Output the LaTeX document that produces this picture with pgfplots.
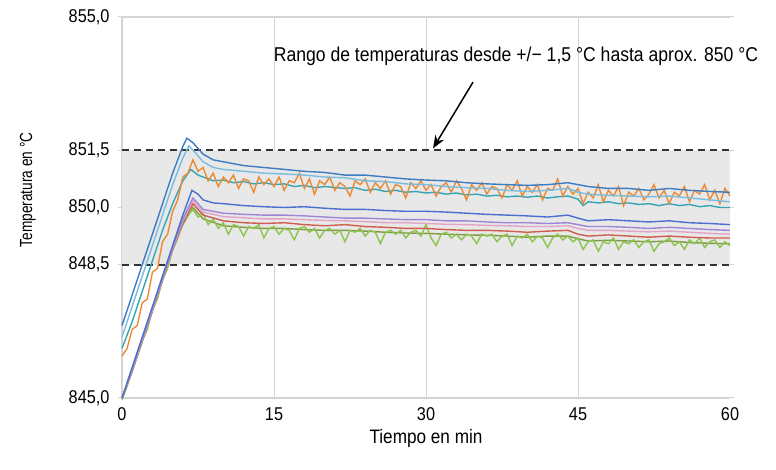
\documentclass[border=0pt]{standalone}
\usepackage{fontspec}
\setmainfont{Liberation Sans}[FakeStretch=0.88]
\newfontfamily\ylabfont{Liberation Sans}[FakeStretch=0.78]
\usepackage{pgfplots}
\pgfplotsset{compat=1.18}
\usetikzlibrary{arrows.meta}

\definecolor{cA}{HTML}{3D7CC0}
\definecolor{cB}{HTML}{78BDE0}
\definecolor{cC}{HTML}{EA8A35}
\definecolor{cD}{HTML}{35A5B5}
\definecolor{cE}{HTML}{4A6FD0}
\definecolor{cF}{HTML}{9D85D8}
\definecolor{cG}{HTML}{E3A3C8}
\definecolor{cH}{HTML}{CF5C4F}
\definecolor{cI}{HTML}{8CC44E}
\definecolor{cJ}{HTML}{7D9B45}
\definecolor{band}{HTML}{E8E8E8}
\definecolor{frame}{HTML}{D4D4D4}

\begin{document}
\begin{tikzpicture}
\begin{axis}[
  width=608bp, height=381bp, scale only axis,
  xmin=0, xmax=60, ymin=845, ymax=855,
  clip=false,
  axis line style={draw=none},
  xtick={0,15,30,45,60},
  ytick={845,848.5,850,851.5,855},
  xtick style={draw=none},
  ytick style={draw=frame, line width=1bp},
  tick align=outside, major tick length=4bp,
  y tick label style={xshift=-5bp, /pgf/number format/.cd, use comma, fixed, fixed zerofill, precision=1},
  x tick label style={yshift=-2bp},
  /pgf/number format/assume math mode=true,
  tick label style={font=\fontsize{18.5bp}{20bp}\selectfont},
  xlabel={Tiempo en min},
  ylabel={Temperatura en °C},
  xlabel style={font=\fontsize{19.5bp}{22bp}\selectfont, at={(axis description cs:0.5,-0.105)}, anchor=center},
  ylabel style={font=\fontsize{17.5bp}{20bp}\ylabfont, at={(axis description cs:-0.155,0.546)}, anchor=center},
  every axis plot/.append style={line width=1.4bp, mark=none},
]
% canvas
\path (axis cs:-12.04,843.11) rectangle (axis cs:64.54,855.446);
% grid and frame
\draw[frame, line width=1bp] (axis cs:15,845) -- (axis cs:15,855);
\draw[frame, line width=1bp] (axis cs:30,845) -- (axis cs:30,855);
\draw[frame, line width=1bp] (axis cs:45,845) -- (axis cs:45,855);
\draw[frame, line width=1.2bp] (axis cs:60,855) -- (axis cs:0,855) -- (axis cs:0,845) -- (axis cs:60,845);
% tolerance band
\addplot[fill=band, draw=none] coordinates {(0,848.5) (60,848.5) (60,851.5) (0,851.5)} -- cycle;
\addplot[color=black!80, line width=2bp, dash pattern=on 7bp off 5bp] coordinates {(0,851.5) (60,851.5)};
\addplot[color=black!80, line width=2bp, dash pattern=on 7bp off 5bp] coordinates {(0,848.5) (60,848.5)};

% lower group
\addplot[color=cJ] coordinates {(0,845.0) (1,845.7) (2,846.48) (3,847.28) (4,848.08) (5,848.88) (6,849.55) (7,850.0) (7.5,849.85) (8,849.7) (10,849.52) (12,849.48) (14,849.45) (16,849.45) (18,849.42) (20,849.4) (22,849.4) (24,849.38) (26,849.35) (28,849.33) (30,849.32) (32,849.3) (34,849.28) (36,849.27) (38,849.25) (40,849.22) (42,849.25) (44,849.25) (45,849.18) (46,849.12) (48,849.14) (50,849.12) (52,849.1) (54,849.12) (56,849.08) (58,849.06) (60,849.05)};
\addplot[color=cI] coordinates {(0,844.95) (0.5,845.3) (1,845.7) (1.5,846.1) (2,846.5) (2.5,846.8) (3,847.3) (3.5,847.6) (4,848.1) (4.5,848.4) (5,848.9) (5.5,849.2) (6,849.6) (6.5,849.8) (7.0,849.95) (7.5,849.75) (8.0,849.85) (8.5,849.55) (9.0,849.7) (9.5,849.45) (10.0,849.6) (10.5,849.3) (11.0,849.55) (11.5,849.5) (12.0,849.25) (12.5,849.5) (13.0,849.45) (13.5,849.55) (14.0,849.2) (14.5,849.45) (15.0,849.5) (15.5,849.3) (16.0,849.45) (16.5,849.4) (17.0,849.15) (17.5,849.45) (18.0,849.5) (18.5,849.35) (19.0,849.45) (19.5,849.2) (20.0,849.4) (20.5,849.45) (21.0,849.3) (21.5,849.4) (22.0,849.1) (22.5,849.4) (23.0,849.35) (23.5,849.45) (24.0,849.25) (24.5,849.4) (25.0,849.35) (25.5,849.05) (26.0,849.35) (26.5,849.4) (27.0,849.3) (27.5,849.4) (28.0,849.2) (28.5,849.35) (29.0,849.4) (29.5,849.25) (30.0,849.55) (30.5,849.2) (31.0,849.0) (31.5,849.3) (32.0,849.35) (32.5,849.2) (33.0,849.3) (33.5,849.15) (34.0,849.3) (34.5,849.25) (35.0,849.05) (35.5,849.3) (36.0,849.25) (36.5,849.3) (37.0,849.1) (37.5,849.25) (38.0,849.3) (38.5,849.0) (39.0,849.25) (39.5,849.2) (40.0,849.3) (40.5,849.1) (41.0,849.25) (41.5,849.2) (42.0,848.95) (42.5,849.2) (43.0,849.3) (43.5,849.15) (44.0,849.25) (44.5,849.1) (45.0,849.2) (45.5,848.9) (46.0,849.1) (46.5,849.15) (47.0,848.85) (47.5,849.1) (48.0,849.05) (48.5,849.2) (49.0,848.9) (49.5,849.1) (50.0,849.05) (50.5,849.15) (51.0,848.95) (51.5,849.1) (52.0,849.15) (52.5,848.85) (53.0,849.05) (53.5,849.1) (54.0,849.2) (54.5,849.0) (55.0,849.1) (55.5,848.9) (56.0,849.15) (56.5,849.05) (57.0,849.2) (57.5,848.95) (58.0,849.1) (58.5,849.15) (59.0,848.95) (59.5,849.1) (60.0,849.0)};
\addplot[color=cH] coordinates {(0,845.0) (1,845.72) (2,846.5) (3,847.3) (4,848.1) (5,848.9) (6,849.6) (7,850.1) (7.5,849.95) (8,849.8) (10,849.65) (12,849.6) (14,849.58) (16,849.6) (18,849.55) (20,849.52) (22,849.55) (24,849.5) (26,849.48) (28,849.45) (30,849.45) (32,849.42) (34,849.4) (36,849.4) (38,849.38) (40,849.35) (42,849.38) (44,849.4) (45,849.3) (46,849.25) (48,849.28) (50,849.25) (52,849.22) (54,849.25) (56,849.22) (58,849.2) (60,849.2)};
\addplot[color=cG] coordinates {(0,845.0) (1,845.74) (2,846.52) (3,847.32) (4,848.12) (5,848.92) (6,849.65) (7,850.18) (7.5,850.02) (8,849.88) (10,849.76) (12,849.73) (14,849.7) (16,849.7) (18,849.68) (20,849.66) (22,849.65) (24,849.63) (26,849.6) (28,849.6) (30,849.58) (32,849.56) (34,849.55) (36,849.53) (38,849.52) (40,849.5) (42,849.5) (44,849.52) (45,849.45) (46,849.4) (48,849.4) (50,849.38) (52,849.36) (54,849.38) (56,849.35) (58,849.32) (60,849.3)};
\addplot[color=cF] coordinates {(0,845.0) (1,845.75) (2,846.55) (3,847.35) (4,848.15) (5,848.95) (6,849.7) (7,850.25) (7.5,850.1) (8,849.95) (10,849.85) (12,849.82) (14,849.8) (16,849.8) (18,849.78) (20,849.75) (22,849.72) (24,849.72) (26,849.7) (28,849.68) (30,849.68) (32,849.65) (34,849.65) (36,849.62) (38,849.6) (40,849.6) (42,849.58) (44,849.6) (45,849.55) (46,849.5) (48,849.5) (50,849.48) (52,849.45) (54,849.48) (56,849.45) (58,849.42) (60,849.4)};
\addplot[color=cE] coordinates {(0,845.0) (1,845.8) (2,846.6) (3,847.4) (4,848.2) (5,849.0) (6,849.8) (6.9,850.45) (7.5,850.35) (8,850.2) (9,850.12) (10,850.1) (12,850.05) (14,850.02) (16,850.0) (18,850.02) (20,849.98) (22,849.95) (24,849.95) (26,849.92) (28,849.9) (30,849.9) (32,849.88) (34,849.85) (36,849.82) (38,849.8) (40,849.78) (42,849.75) (44,849.8) (45,849.72) (46,849.65) (48,849.68) (50,849.65) (52,849.62) (54,849.65) (56,849.6) (58,849.58) (60,849.55)};

% upper group
\addplot[color=cD] coordinates {(0,846.3) (1,847.0) (2,847.8) (3,848.6) (4,849.4) (5,850.1) (6,850.7) (6.8,851.0) (7.5,850.85) (8,850.8) (9,850.7) (10,850.72) (11,850.65) (12,850.68) (13,850.62) (14,850.65) (15,850.6) (16,850.62) (17,850.55) (18,850.58) (19,850.52) (20,850.55) (22,850.5) (23,850.52) (24,850.45) (25,850.48) (26,850.42) (27,850.45) (28,850.4) (29,850.42) (30,850.38) (31,850.4) (32,850.35) (33,850.38) (34,850.33) (35,850.35) (36,850.3) (37,850.32) (38,850.28) (39,850.3) (40,850.27) (41,850.3) (42,850.25) (43,850.28) (44,850.3) (45,850.22) (45.5,850.05) (46,850.15) (47,850.12) (48,850.15) (49,850.1) (50,850.12) (51,850.08) (52,850.1) (53,850.05) (54,850.1) (55,850.05) (56,850.08) (57,850.02) (58,850.05) (59,850.0) (60,850.0)};
\addplot[color=cC] coordinates {(0,846.1) (0.5,846.3) (1,846.8) (1.5,846.9) (2,847.5) (2.5,847.6) (3,848.3) (3.5,848.4) (4,849.1) (4.5,849.3) (5,849.9) (5.5,850.2) (6,850.8) (6.5,850.9) (7.0,851.25) (7.5,850.95) (8.0,851.05) (8.5,850.7) (9.0,850.9) (9.5,850.55) (10.0,850.8) (10.5,850.65) (11.0,850.85) (11.5,850.5) (12.0,850.75) (12.5,850.7) (13.0,850.4) (13.5,850.8) (14.0,850.6) (14.5,850.75) (15.0,850.55) (15.5,850.8) (16.0,850.45) (16.5,850.7) (17.0,850.65) (17.5,850.9) (18.0,850.5) (18.5,850.75) (19.0,850.35) (19.5,850.7) (20.0,850.6) (20.5,850.8) (21.0,850.45) (21.5,850.65) (22.0,850.55) (22.5,850.3) (23.0,850.7) (23.5,850.6) (24.0,850.75) (24.5,850.4) (25.0,850.65) (25.5,850.5) (26.0,850.7) (26.5,850.35) (27.0,850.6) (27.5,850.55) (28.0,850.25) (28.5,850.65) (29.0,850.5) (29.5,850.7) (30.0,850.45) (30.5,850.6) (31.0,850.3) (31.5,850.55) (32.0,850.65) (32.5,850.4) (33.0,850.7) (33.5,850.5) (34.0,850.2) (34.5,850.6) (35.0,850.45) (35.5,850.65) (36.0,850.35) (36.5,850.55) (37.0,850.5) (37.5,850.25) (38.0,850.6) (38.5,850.45) (39.0,850.7) (39.5,850.3) (40.0,850.55) (40.5,850.4) (41.0,850.6) (41.5,850.2) (42.0,850.5) (42.5,850.45) (43.0,850.75) (43.5,850.3) (44.0,850.55) (44.5,850.35) (45.0,850.5) (45.5,850.1) (46.0,850.4) (46.5,850.25) (47.0,850.6) (47.5,850.15) (48.0,850.45) (48.5,850.3) (49.0,850.55) (49.5,850.05) (50.0,850.4) (50.5,850.3) (51.0,850.5) (51.5,850.2) (52.0,850.35) (52.5,850.6) (53.0,850.25) (53.5,850.45) (54.0,850.1) (54.5,850.4) (55.0,850.3) (55.5,850.55) (56.0,850.15) (56.5,850.45) (57.0,850.35) (57.5,850.6) (58.0,850.2) (58.5,850.45) (59.0,850.1) (59.5,850.5) (60.0,850.3)};
\addplot[color=cB] coordinates {(0,846.6) (1,847.4) (2,848.2) (3,849.0) (4,849.8) (5,850.6) (6,851.3) (6.6,851.62) (7.2,851.45) (8,851.2) (9,851.05) (10,851.0) (12,850.95) (14,850.9) (16,850.88) (18,850.85) (20,850.8) (22,850.78) (24,850.7) (26,850.68) (28,850.62) (30,850.6) (32,850.55) (34,850.52) (36,850.5) (38,850.45) (40,850.42) (42,850.45) (44,850.5) (45,850.4) (46,850.35) (48,850.32) (50,850.3) (52,850.28) (54,850.3) (56,850.25) (58,850.2) (60,850.15)};
\addplot[color=cA] coordinates {(0,846.9) (1,847.7) (2,848.5) (3,849.3) (4,850.1) (5,850.9) (6,851.6) (6.4,851.82) (7,851.7) (8,851.4) (9,851.25) (10,851.2) (12,851.1) (14,851.05) (16,851.0) (18,850.95) (20,850.92) (22,850.85) (24,850.85) (26,850.8) (28,850.75) (30,850.72) (32,850.7) (34,850.65) (36,850.62) (38,850.6) (40,850.58) (42,850.6) (44,850.65) (45,850.6) (46,850.55) (48,850.5) (50,850.5) (52,850.45) (54,850.5) (56,850.45) (58,850.42) (60,850.4)};

% annotation
\draw[black, line width=1.5bp, -{Stealth[length=13bp,width=10bp]}] (axis cs:34.64,853.29) -- (axis cs:30.69,851.55);
\node[font=\fontsize{20bp}{23bp}\selectfont, anchor=center] at (axis cs:38.88,853.98) {Rango de temperaturas desde +/− 1,5 °C hasta aprox. 850 °C};
\end{axis}
\end{tikzpicture}
\end{document}
